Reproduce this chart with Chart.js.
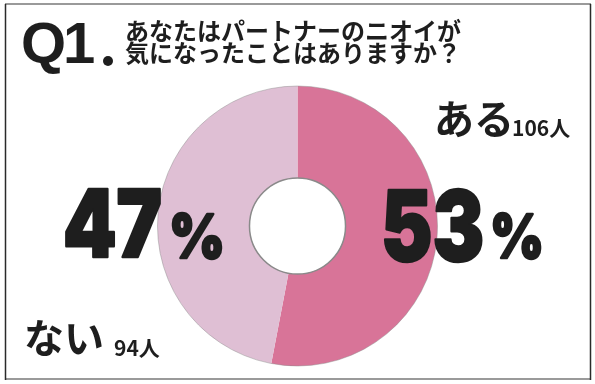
<!DOCTYPE html>
<html>
<head>
<meta charset="utf-8">
<script src="https://cdn.jsdelivr.net/npm/chart.js@4"></script>
<style>
  html, body { margin: 0; padding: 0; background: #fff; }
  #wrap { width: 595px; height: 384px; position: relative; }
</style>
</head>
<body>
<div id="wrap"><canvas id="myChart" width="595" height="384"></canvas></div>
<script>
const labels = ["ある", "ない"];
const counts = [106, 94];
const percents = [53, 47];
const colors = ["#d87498", "#dfbfd4"];
const titleLines = ["あなたはパートナーのニオイが", "気になったことはありますか？"];

const jp = "'Noto Sans CJK JP', 'Noto Sans', sans-serif";
const heavy = "Inter, Roboto, 'Liberation Sans', sans-serif";

// draw heavy text squeezed so that it spans the given width
function fitText(c, txt, x, y, w) {
    const m = c.measureText(txt).width;
    c.save();
    c.translate(x, y);
    c.scale(w / m, 1);
    c.lineJoin = "round";
    c.lineWidth = 2.5;
    c.strokeStyle = c.fillStyle;
    c.strokeText(txt, 0, 0);
    c.fillText(txt, 0, 0);
    c.restore();
}

const decor = {
    id: "decor",
    beforeDraw(chart) {
        const c = chart.ctx;
        c.save();
        c.fillStyle = "#fff";
        c.fillRect(0, 0, chart.width, chart.height);
        // frame
        c.strokeStyle = "#9a9a9a";
        c.lineWidth = 2;
        c.beginPath();
        c.moveTo(5, 4); c.lineTo(591, 4);
        c.moveTo(5, 379); c.lineTo(591, 379);
        c.stroke();
        c.strokeStyle = "#2a2a2a";
        c.lineWidth = 1.5;
        c.beginPath();
        c.moveTo(5.5, 4); c.lineTo(5.5, 380);
        c.moveTo(590.5, 4); c.lineTo(590.5, 380);
        c.stroke();
        c.restore();
    },
    afterDraw(chart) {
        const c = chart.ctx;
        const arc = chart.getDatasetMeta(0).data[0];
        c.save();
        // ring outlines
        c.strokeStyle = "rgba(140,140,140,0.45)";
        c.lineWidth = 1;
        c.beginPath();
        c.arc(arc.x, arc.y, arc.outerRadius, 0, Math.PI * 2);
        c.stroke();
        c.strokeStyle = "#8a8a8a";
        c.lineWidth = 1.5;
        c.beginPath();
        c.arc(arc.x, arc.y, arc.innerRadius, 0, Math.PI * 2);
        c.stroke();

        c.fillStyle = "#1e1e1e";
        c.textBaseline = "alphabetic";
        c.textAlign = "left";
        // title
        c.font = "bold 58px 'Liberation Sans', Arial, sans-serif";
        c.letterSpacing = "-3px";
        c.fillText("Q1", 21, 63);
        c.letterSpacing = "0px";
        c.beginPath();
        c.arc(108, 61, 5, 0, Math.PI * 2);
        c.fill();
        c.font = "bold 24px " + jp;
        c.textBaseline = "middle";
        c.fillText(titleLines[0], 125, 31);
        c.fillText(titleLines[1], 125, 53);

        // big percentages
        c.textBaseline = "alphabetic";
        c.font = "900 93px " + heavy;
        fitText(c, String(percents[1]), 63, 257, 99);
        c.font = "900 97px " + heavy;
        fitText(c, String(percents[0]), 381, 261, 103);
        c.font = "900 61px " + heavy;
        fitText(c, "%", 169, 258, 56);
        fitText(c, "%", 490, 258, 54);

        // category labels
        c.textBaseline = "middle";
        c.font = "bold 40px " + jp;
        c.fillText(labels[0], 434, 119);
        c.fillText(labels[1], 24, 338);
        c.textBaseline = "alphabetic";
        c.font = "bold 21px " + jp;
        c.fillText(counts[0] + "人", 512, 136);
        c.fillText(counts[1] + "人", 114, 356);
        c.restore();
    }
};

const ctx = document.getElementById("myChart");
new Chart(ctx, {
    type: "doughnut",
    data: {
        labels: labels,
        datasets: [{
            data: counts,
            backgroundColor: colors,
            borderWidth: 0
        }]
    },
    options: {
        responsive: false,
        animation: false,
        cutout: "34.3%",
        layout: { padding: { top: 86, bottom: 18, left: 0, right: 0 } },
        plugins: {
            legend: { display: false },
            tooltip: { enabled: false }
        }
    },
    plugins: [decor]
});
</script>
</body>
</html>
